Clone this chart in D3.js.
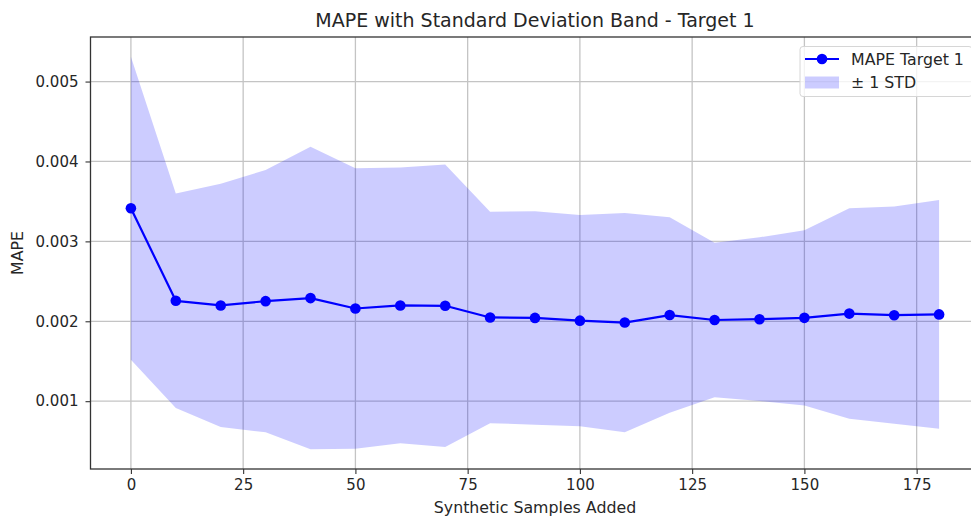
<!DOCTYPE html>
<html>
<head>
<meta charset="utf-8">
<script src="https://cdn.jsdelivr.net/npm/d3@7"></script>
<style>
  html, body { margin: 0; padding: 0; background: #ffffff; }
  svg { display: block; }
  text { font-family: "DejaVu Sans", sans-serif; fill: #262626; }
</style>
</head>
<body>
<svg id="chart" width="971" height="519"></svg>
<script>
// Synthetic samples added (x) for each evaluation run
const samplesAdded = [0, 10, 20, 30, 40, 50, 60, 70, 80, 90, 100, 110, 120, 130, 140, 150, 160, 170, 180];
// Mean MAPE for target 1
const mapeMean = [0.003415, 0.002256, 0.002198, 0.002252, 0.002290, 0.002160, 0.002198, 0.002194, 0.002048,
                  0.002042, 0.002008, 0.001984, 0.002078, 0.002016, 0.002026, 0.002043, 0.002096, 0.002076, 0.002086];
// Standard deviation of MAPE across runs
const mapeStd = [0.001897, 0.001342, 0.001522, 0.001641, 0.001893, 0.001756, 0.001725, 0.001767, 0.001323,
                 0.001336, 0.001321, 0.001372, 0.001223, 0.000966, 0.001025, 0.001097, 0.001317, 0.001359, 0.001432];
const xTicks = [0, 25, 50, 75, 100, 125, 150, 175];
const yTicks = [0.001, 0.002, 0.003, 0.004, 0.005];
const yTickLabels = ["0.001", "0.002", "0.003", "0.004", "0.005"];

const titleText = "MAPE with Standard Deviation Band - Target 1";
const xLabel = "Synthetic Samples Added";
const yLabel = "MAPE";
const legendLine = "MAPE Target 1";
const legendBand = "\u00b1 1 STD";

const points = samplesAdded.map((x, i) => ({ x, m: mapeMean[i], lo: mapeMean[i] - mapeStd[i], hi: mapeMean[i] + mapeStd[i] }));

const svg = d3.select("#chart");
const plot = { left: 90.5, right: 979.5, top: 37, bottom: 469 };

// Axis limits with a 5% margin around the data
const xMin = d3.min(samplesAdded), xMax = d3.max(samplesAdded);
const xPad = (xMax - xMin) * 0.05;
const yMin = d3.min(points, d => d.lo), yMax = d3.max(points, d => d.hi);
const yPad = (yMax - yMin) * 0.05;

const x = d3.scaleLinear().domain([xMin - xPad, xMax + xPad]).range([plot.left, plot.right]);
const y = d3.scaleLinear().domain([yMin - yPad, yMax + yPad]).range([plot.bottom, plot.top]);

// Grid
const grid = svg.append("g").attr("stroke", "#c4c4c4").attr("stroke-width", 1.3);
grid.selectAll("line.vx").data(xTicks).join("line")
  .attr("x1", d => x(d)).attr("x2", d => x(d)).attr("y1", plot.top).attr("y2", plot.bottom);
grid.selectAll("line.hy").data(yTicks).join("line")
  .attr("x1", plot.left).attr("x2", plot.right).attr("y1", d => y(d)).attr("y2", d => y(d));

// ±1 STD band
const band = d3.area().x(d => x(d.x)).y0(d => y(d.lo)).y1(d => y(d.hi));
svg.append("path").datum(points).attr("d", band).attr("fill", "#0000ff").attr("fill-opacity", 0.2);

// Mean line with markers
const line = d3.line().x(d => x(d.x)).y(d => y(d.m));
svg.append("path").datum(points).attr("d", line)
  .attr("fill", "none").attr("stroke", "#0000ff").attr("stroke-width", 2.2).attr("stroke-linejoin", "round");
svg.append("g").selectAll("circle").data(points).join("circle")
  .attr("cx", d => x(d.x)).attr("cy", d => y(d.m)).attr("r", 5.3).attr("fill", "#0000ff");

// Axes
const xAxis = d3.axisBottom(x).tickValues(xTicks).tickSize(5).tickPadding(5).tickFormat(d3.format("d"));
const yAxis = d3.axisLeft(y).tickValues(yTicks).tickSize(5).tickPadding(7).tickFormat((d, i) => yTickLabels[i]);

const gx = svg.append("g").attr("transform", `translate(0,${plot.bottom})`).call(xAxis);
const gy = svg.append("g").attr("transform", `translate(${plot.left},0)`).call(yAxis);
[gx, gy].forEach(g => {
  g.select(".domain").remove();
  g.selectAll(".tick line").attr("stroke", "#333").attr("stroke-width", 1.1);
  g.selectAll(".tick text").attr("font-size", 15).attr("font-family", "DejaVu Sans").attr("fill", "#262626");
});

// Spines
svg.append("rect")
  .attr("x", plot.left).attr("y", plot.top)
  .attr("width", plot.right - plot.left).attr("height", plot.bottom - plot.top)
  .attr("fill", "none").attr("stroke", "#333").attr("stroke-width", 1.3);

// Title and axis labels
svg.append("text").attr("x", (plot.left + plot.right) / 2).attr("y", 26.5)
  .attr("text-anchor", "middle").attr("font-size", 19).text(titleText);
svg.append("text").attr("x", (plot.left + plot.right) / 2).attr("y", 513)
  .attr("text-anchor", "middle").attr("font-size", 15.8).text(xLabel);
svg.append("text").attr("transform", `translate(23,${(plot.top + plot.bottom) / 2}) rotate(-90)`)
  .attr("text-anchor", "middle").attr("font-size", 15.8).text(yLabel);

// Legend
const lg = svg.append("g").attr("transform", "translate(800,46.5)");
lg.append("rect").attr("x", 0).attr("y", 0).attr("width", 172).attr("height", 50).attr("rx", 3)
  .attr("fill", "#ffffff").attr("fill-opacity", 0.8).attr("stroke", "#d6d6d6").attr("stroke-width", 1);
lg.append("line").attr("x1", 5).attr("x2", 39).attr("y1", 12.5).attr("y2", 12.5)
  .attr("stroke", "#0000ff").attr("stroke-width", 2.2);
lg.append("circle").attr("cx", 22).attr("cy", 12.5).attr("r", 5.3).attr("fill", "#0000ff");
lg.append("text").attr("x", 51).attr("y", 18).attr("font-size", 15.8).text(legendLine);
lg.append("rect").attr("x", 5).attr("y", 30).attr("width", 34).attr("height", 12)
  .attr("fill", "#0000ff").attr("fill-opacity", 0.2);
lg.append("text").attr("x", 51).attr("y", 41).attr("font-size", 15.8).text(legendBand);
</script>
</body>
</html>
